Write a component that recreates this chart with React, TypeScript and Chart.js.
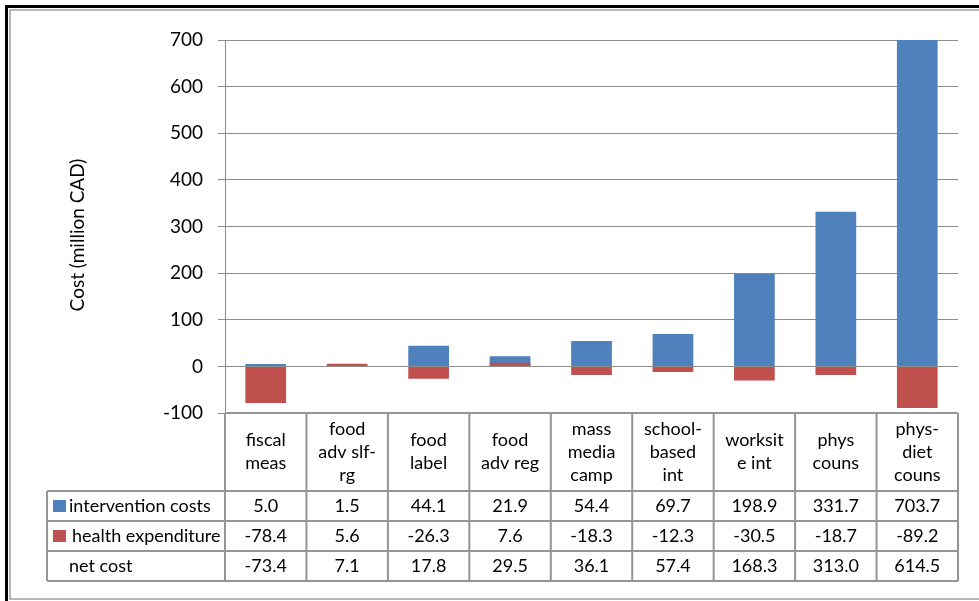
import { useEffect, useRef } from "react";
import { Chart, registerables } from "chart.js";

Chart.register(...registerables);

// Intervention categories (wrapped the way they appear in the data table header)
const categoryLines: string[][] = [
  ["fiscal", "meas"],
  ["food", "adv slf-", "rg"],
  ["food", "label"],
  ["food", "adv reg"],
  ["mass", "media", "camp"],
  ["school-", "based", "int"],
  ["worksit", "e int"],
  ["phys", "couns"],
  ["phys-", "diet", "couns"],
];

const interventionCosts = [5.0, 1.5, 44.1, 21.9, 54.4, 69.7, 198.9, 331.7, 703.7];
const healthExpenditure = [-78.4, 5.6, -26.3, 7.6, -18.3, -12.3, -30.5, -18.7, -89.2];
const netCost = [-73.4, 7.1, 17.8, 29.5, 36.1, 57.4, 168.3, 313.0, 614.5];

const seriesNames = ["intervention costs", "health expenditure", "net cost"];
const yAxisTitle = "Cost (million CAD)";
const yMin = -100;
const yMax = 700;
const yStep = 100;

const BLUE = "#4F81BD";
const RED = "#C0504D";
const GRID = "#8C8C8C";
const TABLE_LINE = "#959595";
const FONT = "Lato, 'Noto Sans', sans-serif";
const TABLE_FONT_SIZE = 18;
const AXIS_FONT_SIZE = 19;

const W = 979;
const H = 601;

const tablePlugin = {
  id: "dataTable",
  afterDraw(chart: any) {
    const { ctx, chartArea } = chart;
    const xScale = chart.scales.x;
    const n = categoryLines.length;
    const colW = (chartArea.right - chartArea.left) / n;
    const tableLeft = 47;
    const top = chartArea.bottom;
    const headerBottom = 491;
    const rowH = 30;
    const rowTops = [headerBottom, headerBottom + rowH, headerBottom + rowH * 2];
    const tableBottom = headerBottom + rowH * 3;

    ctx.save();
    ctx.font = `${TABLE_FONT_SIZE}px ${FONT}`;
    ctx.fillStyle = "#000";
    ctx.textAlign = "center";
    ctx.textBaseline = "middle";

    // header: category names
    const lineH = 23;
    const headerMid = (top + headerBottom) / 2;
    categoryLines.forEach((lines, i) => {
      const cx = xScale.getPixelForValue(i);
      const startY = headerMid - ((lines.length - 1) * lineH) / 2;
      lines.forEach((ln, j) => ctx.fillText(ln, cx, startY + j * lineH));
    });

    // value rows
    const rows = [interventionCosts, healthExpenditure, netCost];
    rows.forEach((vals, r) => {
      const cy = rowTops[r] + rowH / 2;
      vals.forEach((v, i) => {
        ctx.fillText(v.toFixed(1), xScale.getPixelForValue(i), cy + 0.5);
      });
    });

    // legend column
    ctx.textAlign = "left";
    const markers = [BLUE, RED, null];
    seriesNames.forEach((name, r) => {
      const cy = rowTops[r] + rowH / 2;
      const m = markers[r];
      if (m) {
        ctx.fillStyle = m;
        ctx.fillRect(53, cy - 6, 13, 12);
      }
      ctx.fillStyle = "#000";
      ctx.fillText(name, r === 1 ? 72 : 69, cy + 0.5);
    });

    // table lines
    ctx.strokeStyle = TABLE_LINE;
    ctx.lineWidth = 2;
    ctx.beginPath();
    ctx.moveTo(chartArea.left, top);
    ctx.lineTo(chartArea.right, top);
    rowTops.forEach((y) => {
      ctx.moveTo(tableLeft, y);
      ctx.lineTo(chartArea.right, y);
    });
    ctx.moveTo(tableLeft, tableBottom);
    ctx.lineTo(chartArea.right, tableBottom);
    ctx.moveTo(tableLeft, headerBottom);
    ctx.lineTo(tableLeft, tableBottom);
    for (let i = 0; i <= n; i++) {
      const x = chartArea.left + i * colW;
      ctx.moveTo(x, top);
      ctx.lineTo(x, tableBottom);
    }
    ctx.stroke();

    // y-axis title
    ctx.save();
    ctx.font = `${AXIS_FONT_SIZE}px ${FONT}`;
    ctx.translate(78, 235);
    ctx.rotate(-Math.PI / 2);
    ctx.textAlign = "center";
    ctx.textBaseline = "middle";
    ctx.fillStyle = "#000";
    ctx.fillText(yAxisTitle, 0, 0);
    ctx.restore();

    // outer frame
    ctx.fillStyle = "#000";
    ctx.fillRect(5, 5, W - 5, 3);
    ctx.fillRect(5, 5, 3, H - 5);
    ctx.strokeStyle = "#A0A0A0";
    ctx.lineWidth = 1.5;
    ctx.beginPath();
    ctx.moveTo(W, 10);
    ctx.lineTo(10, 10);
    ctx.lineTo(10, 599);
    ctx.lineTo(W, 599);
    ctx.stroke();

    ctx.restore();
  },
};

export default function App() {
  const canvasRef = useRef<HTMLCanvasElement | null>(null);

  useEffect(() => {
    document.body.style.margin = "0";
    const canvas = canvasRef.current;
    if (!canvas) return;
    const chart = new Chart(canvas, {
      type: "bar",
      data: {
        labels: categoryLines.map((l) => l.join(" ")),
        datasets: [
          {
            label: seriesNames[0],
            data: interventionCosts,
            backgroundColor: BLUE,
            order: 1,
          },
          {
            label: seriesNames[1],
            data: healthExpenditure,
            backgroundColor: RED,
            order: 0,
          },
        ],
      },
      options: {
        responsive: false,
        animation: false,
        maintainAspectRatio: false,
        devicePixelRatio: 1,
        layout: { padding: { left: 0, top: 40, right: W - 958, bottom: H - 413 } },
        plugins: {
          legend: { display: false },
          tooltip: { enabled: false },
          title: { display: false },
        },
        datasets: {
          bar: { categoryPercentage: 1, barPercentage: 0.5, borderWidth: 0 },
        },
        scales: {
          x: {
            display: false,
            stacked: true,
          },
          y: {
            stacked: false,
            min: yMin,
            max: yMax,
            ticks: {
              stepSize: yStep,
              padding: 15,
              color: "#000",
              font: { family: FONT, size: AXIS_FONT_SIZE },
            },
            grid: {
              color: GRID,
              lineWidth: 1,
              tickLength: 7,
              tickColor: GRID,
            },
            border: { color: GRID, width: 1 },
            afterFit(scale: any) {
              scale.width = 225;
            },
          },
        },
      },
      plugins: [tablePlugin],
    });
    return () => chart.destroy();
  }, []);

  return (
    <div style={{ width: W, height: H, background: "#fff" }}>
      <canvas ref={canvasRef} width={W} height={H} style={{ display: "block" }} />
    </div>
  );
}
